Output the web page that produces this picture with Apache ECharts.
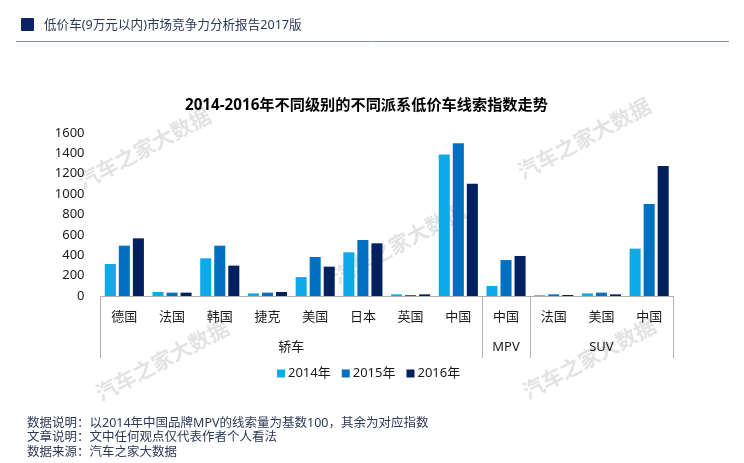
<!DOCTYPE html>
<html>
<head>
<meta charset="utf-8">
<title>低价车线索指数</title>
<script src="https://cdn.jsdelivr.net/npm/echarts@6/dist/echarts.min.js"></script>
<style>
  html, body { margin: 0; padding: 0; background: #fff; }
  #chart { width: 744px; height: 463px; }
</style>
</head>
<body>
<div id="chart"></div>
<script>
var countries = ['德国', '法国', '韩国', '捷克', '美国', '日本', '英国', '中国', '中国', '法国', '美国', '中国'];
var values2014 = [314, 39, 370, 26, 186, 429, 16, 1390, 98, 7, 26, 465];
var values2015 = [494, 33, 494, 33, 383, 550, 10, 1499, 353, 16, 33, 903];
var values2016 = [566, 33, 298, 39, 288, 517, 16, 1103, 393, 10, 16, 1276];
var seriesNames = ['2014年', '2015年', '2016年'];
var seriesColors = ['#0cabe8', '#0070c0', '#002060'];

// second level of the category axis, spans counted in categories
var groupNames = ['轿车', 'MPV', 'SUV'];
var groupSpans = [8, 1, 3];

var pageTitle = '低价车(9万元以内)市场竞争力分析报告2017版';
var chartTitle = '2014-2016年不同级别的不同派系低价车线索指数走势';
var notes = [
  '数据说明：以2014年中国品牌MPV的线索量为基数100，其余为对应指数',
  '文章说明：文中任何观点仅代表作者个人看法',
  '数据来源：汽车之家大数据'
];
var watermarkText = '汽车之家大数据';

var FONT = '"Noto Sans", "Noto Sans CJK SC", sans-serif';
var TEXT = '#1a1a1a';

// boundaries and centres of the groups, in category units
var groupEdges = [0];
var groupCenters = [];
groupSpans.forEach(function (span, i) {
  groupCenters.push(groupEdges[i] + span / 2);
  groupEdges.push(groupEdges[i] + span);
});

function watermark(x, y) {
  return {
    type: 'text', x: x, y: y, rotation: 28 * Math.PI / 180, z: 0,
    style: {
      text: watermarkText, fill: '#e3e3e3', font: 'bold 21px ' + FONT,
      align: 'center', verticalAlign: 'middle'
    }
  };
}

var graphics = [
  { type: 'rect', shape: { x: 21, y: 18, width: 13, height: 13, r: 1 }, style: { fill: '#0b2265' } },
  { type: 'text', x: 44, y: 25, style: { text: pageTitle, fill: '#2c3a58', font: '12.6px ' + FONT, verticalAlign: 'middle' } },
  { type: 'line', shape: { x1: 16, y1: 41.5, x2: 729, y2: 41.5 }, style: { stroke: '#8090aa', lineWidth: 1 } },
  watermark(145, 150), watermark(585, 140), watermark(400, 245), watermark(163, 362), watermark(590, 360)
];
notes.forEach(function (line, i) {
  graphics.push({
    type: 'text', x: 27, y: 423 + i * 14.5,
    style: { text: line, fill: '#2c3a58', font: '12.5px ' + FONT, verticalAlign: 'middle' }
  });
});

var chart = echarts.init(document.getElementById('chart'));

chart.setOption({
  animation: false,
  backgroundColor: '#fff',
  textStyle: { fontFamily: FONT },
  title: {
    text: chartTitle, left: 185, top: 98, padding: 0,
    textStyle: { fontSize: 15.2, fontWeight: 'bold', color: '#000', fontFamily: FONT }
  },
  legend: {
    data: seriesNames, left: 277, top: 367, padding: 0,
    itemWidth: 8, itemHeight: 8, itemGap: 11,
    icon: 'rect',
    textStyle: { fontSize: 13, color: TEXT, padding: [0, 0, 0, -2] }
  },
  grid: { left: 100.5, right: 71, top: 133, bottom: 167 },
  xAxis: [
    {
      type: 'category', data: countries,
      axisLine: { lineStyle: { color: '#b0b0b0' } },
      axisTick: { show: false },
      axisLabel: { interval: 0, fontSize: 13, color: TEXT, margin: 15 }
    },
    {
      // group level: separators and names sit on category boundaries
      type: 'value', position: 'bottom', min: 0, max: 12,
      axisLine: { show: false },
      splitLine: { show: false },
      axisTick: { show: true, customValues: groupEdges, length: 62, lineStyle: { color: '#b0b0b0' } },
      axisLabel: {
        show: true, customValues: groupCenters, fontSize: 13, color: TEXT, margin: 45,
        formatter: function (v) { return groupNames[groupCenters.indexOf(v)]; }
      }
    }
  ],
  yAxis: {
    type: 'value', min: 0, max: 1600, interval: 200,
    axisLine: { show: false },
    axisTick: { show: false },
    splitLine: { show: false },
    axisLabel: { fontSize: 13, color: TEXT, margin: 16, formatter: function (v) { return String(v); } }
  },
  series: [values2014, values2015, values2016].map(function (vals, i) {
    return {
      name: seriesNames[i], type: 'bar', data: vals,
      itemStyle: { color: seriesColors[i] },
      barGap: '27%', barCategoryGap: '18%'
    };
  }),
  graphic: graphics
});
</script>
</body>
</html>
